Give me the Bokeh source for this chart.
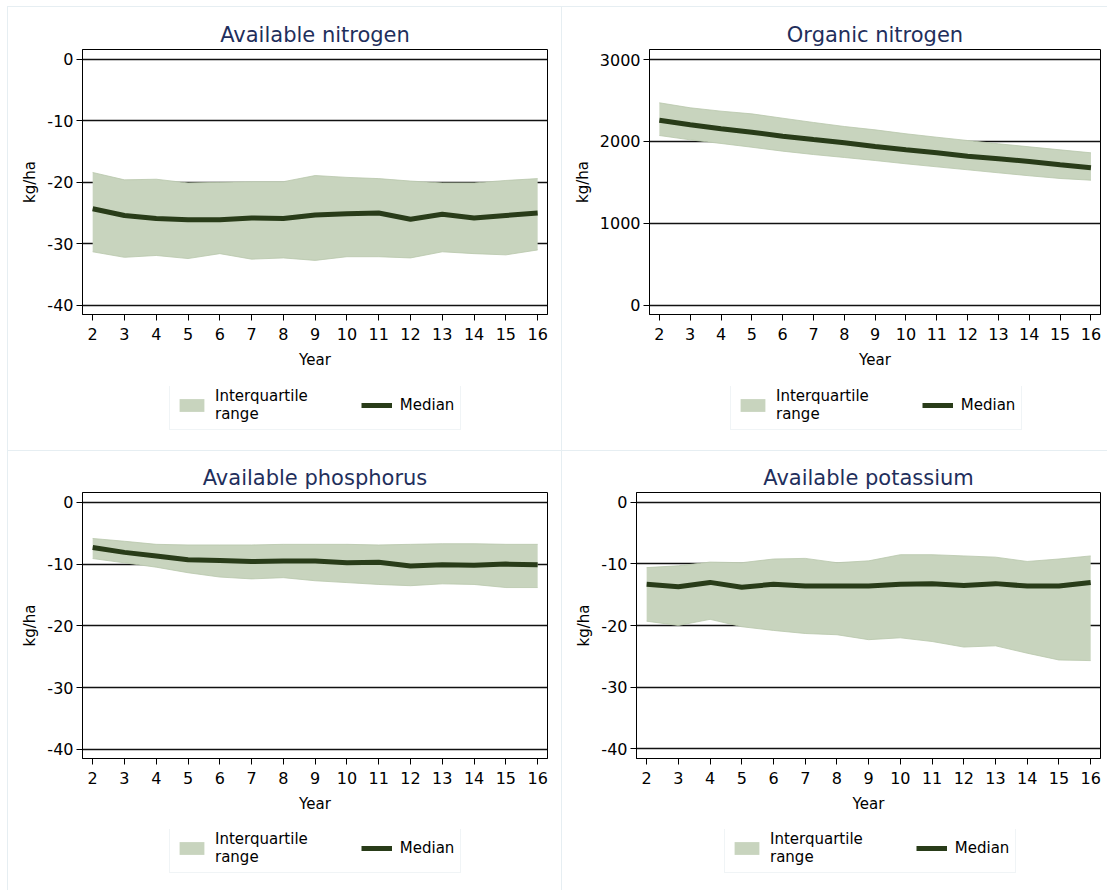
from bokeh.plotting import figure
from bokeh.models import Range1d, FixedTicker, Legend, LegendItem, Spacer
from bokeh.layouts import row, column
from bokeh.embed import file_html
from bokeh.resources import INLINE

years = list(range(2, 17))

avail_n_upper = [-18.4, -19.6, -19.5, -20.1, -20.0, -19.9, -19.9, -18.9, -19.2, -19.4, -19.8, -20.1, -20.1, -19.7, -19.4]
avail_n_median = [-24.3, -25.4, -25.9, -26.1, -26.1, -25.8, -25.9, -25.3, -25.1, -25.0, -26.0, -25.2, -25.8, -25.4, -25.0]
avail_n_lower = [-31.3, -32.2, -31.9, -32.4, -31.6, -32.5, -32.3, -32.7, -32.1, -32.1, -32.3, -31.3, -31.6, -31.8, -31.0]

org_n_upper = [2472, 2411, 2370, 2337, 2284, 2232, 2183, 2142, 2094, 2052, 2012, 1972, 1935, 1898, 1862]
org_n_median = [2260, 2204, 2155, 2114, 2065, 2024, 1984, 1939, 1898, 1862, 1821, 1789, 1756, 1716, 1679]
org_n_lower = [2073, 2020, 1976, 1930, 1882, 1841, 1805, 1768, 1728, 1691, 1655, 1618, 1582, 1549, 1528]

avail_p_upper = [-5.85, -6.3, -6.8, -6.9, -6.9, -6.9, -6.8, -6.8, -6.8, -6.9, -6.8, -6.7, -6.7, -6.8, -6.8]
avail_p_median = [-7.3, -8.1, -8.7, -9.3, -9.4, -9.6, -9.5, -9.5, -9.8, -9.7, -10.3, -10.1, -10.2, -10.0, -10.1]
avail_p_lower = [-9.1, -9.8, -10.5, -11.4, -12.1, -12.4, -12.2, -12.7, -13.0, -13.3, -13.5, -13.2, -13.3, -13.8, -13.8]

avail_k_upper = [-10.6, -10.3, -9.7, -9.8, -9.2, -9.1, -9.8, -9.5, -8.5, -8.5, -8.7, -8.9, -9.6, -9.2, -8.7]
avail_k_median = [-13.3, -13.7, -13.0, -13.8, -13.3, -13.6, -13.6, -13.6, -13.3, -13.2, -13.5, -13.2, -13.6, -13.6, -13.0]
avail_k_lower = [-19.3, -20.0, -19.0, -20.2, -20.8, -21.3, -21.5, -22.3, -22.0, -22.6, -23.5, -23.3, -24.5, -25.6, -25.7]

neg_ticks = [-40, -30, -20, -10, 0]
neg_tick_labels = ["-40", "-30", "-20", "-10", "0"]
org_ticks = [0, 1000, 2000, 3000]
org_tick_labels = ["0", "1000", "2000", "3000"]
legend_labels = ["Interquartile\nrange", "Median"]

FONT = "DejaVu Sans"
BAND = "#c8d4be"
BAND_EDGE = "#b8c6ab"
MED = "#293c19"
NAVY = "#1f2f5c"
PANEL_EDGE = "#e6eef2"


def draw_series(p, lower, median, upper):
    band = p.varea(x=years, y1=lower, y2=upper, fill_color=BAND, fill_alpha=1.0)
    p.line(x=years, y=upper, line_color=BAND_EDGE, line_width=0.8)
    p.line(x=years, y=lower, line_color=BAND_EDGE, line_width=0.8)
    med = p.line(x=years, y=median, line_color=MED, line_width=5)
    return band, med


def panel(title, lower, median, upper, yr, yticks, ylabels, w, h, left, right, top, bottom,
          leg_h, leg_loc):
    p = figure(
        width=w, height=h,
        min_border_left=left, min_border_right=right,
        min_border_top=top, min_border_bottom=bottom,
        x_range=Range1d(1.68, 16.31), y_range=Range1d(*yr),
        output_backend="svg", toolbar_location=None,
        title=title,
    )
    p.border_fill_color = None
    p.background_fill_color = "white"
    p.styles = {"box-shadow": f"inset 1px 1px 0 {PANEL_EDGE}"}
    p.outline_line_color = "black"
    p.outline_line_width = 1
    p.title.align = "center"
    p.title.text_font = FONT
    p.title.text_font_size = "21px"
    p.title.text_font_style = "normal"
    p.title.text_color = NAVY
    p.title.standoff = 6

    p.xgrid.visible = False
    p.ygrid.ticker = FixedTicker(ticks=yticks)
    p.ygrid.grid_line_color = "#111111"
    p.ygrid.grid_line_width = 1.4

    p.xaxis.ticker = FixedTicker(ticks=years)
    p.yaxis.ticker = FixedTicker(ticks=yticks)
    p.yaxis.major_label_overrides = dict(zip(yticks, ylabels))
    for ax in (p.xaxis[0], p.yaxis[0]):
        ax.axis_line_color = "black"
        ax.major_tick_line_color = "black"
        ax.minor_tick_line_color = None
        ax.major_tick_out = 6
        ax.major_tick_in = 0
        ax.major_label_text_font = FONT
        ax.major_label_text_font_size = "16px"
        ax.major_label_text_color = "black"
        ax.axis_label_text_font = FONT
        ax.axis_label_text_font_size = "15px"
        ax.axis_label_text_font_style = "normal"
        ax.axis_label_text_color = "black"
    p.xaxis.axis_label = "Year"
    p.yaxis.axis_label = "kg/ha"
    p.xaxis.major_label_standoff = 7
    p.yaxis.major_label_standoff = 3
    p.xaxis.axis_label_standoff = 8
    p.yaxis.axis_label_standoff = 5
    p.yaxis.major_label_orientation = "horizontal"

    draw_series(p, lower, median, upper)

    # legend strip: same series drawn out of view, legend placed inside its frame
    lg = figure(
        width=w, height=leg_h, min_border=0,
        x_range=Range1d(100, 101), y_range=Range1d(*yr),
        x_axis_location=None, y_axis_location=None,
        output_backend="svg", toolbar_location=None,
    )
    lg.grid.visible = False
    lg.outline_line_color = None
    lg.border_fill_color = None
    lg.background_fill_color = None
    lg.styles = {"box-shadow": f"inset 1px 0 0 {PANEL_EDGE}"}
    band, med = draw_series(lg, lower, median, upper)
    legend = Legend(
        items=[LegendItem(label=legend_labels[0], renderers=[band]),
               LegendItem(label=legend_labels[1], renderers=[med])],
        orientation="horizontal", location=leg_loc, margin=0, padding=6,
        spacing=53, glyph_width=31, glyph_height=16, label_standoff=8,
        label_text_font=FONT, label_text_font_size="15px", label_text_line_height=1.0,
        label_text_color="black",
        border_line_color="#e2eaee", border_line_width=1, background_fill_color="white",
        background_fill_alpha=1.0,
    )
    lg.add_layout(legend)
    return column(p, lg)


c1 = panel("Available nitrogen", avail_n_lower, avail_n_median, avail_n_upper,
           (-41.5, 1.6), neg_ticks, neg_tick_labels, 554, 380, 75, 14, 43, 72, 64, (87, 20))
c2 = panel("Organic nitrogen", org_n_lower, org_n_median, org_n_upper,
           (-110, 3122), org_ticks, org_tick_labels, 546, 380, 88, 7, 43, 72, 64, (81, 20))
c3 = panel("Available phosphorus", avail_p_lower, avail_p_median, avail_p_upper,
           (-41.5, 1.6), neg_ticks, neg_tick_labels, 554, 379, 75, 14, 42, 71, 61, (87, 17))
c4 = panel("Available potassium", avail_k_lower, avail_k_median, avail_k_upper,
           (-41.6, 1.6), neg_ticks, neg_tick_labels, 546, 379, 75, 7, 42, 71, 61, (88, 17))

layout = column(
    Spacer(height=6),
    row(Spacer(width=7), c1, c2),
    row(Spacer(width=7), c3, c4),
)

open("out.html", "w").write(file_html(layout, INLINE))
